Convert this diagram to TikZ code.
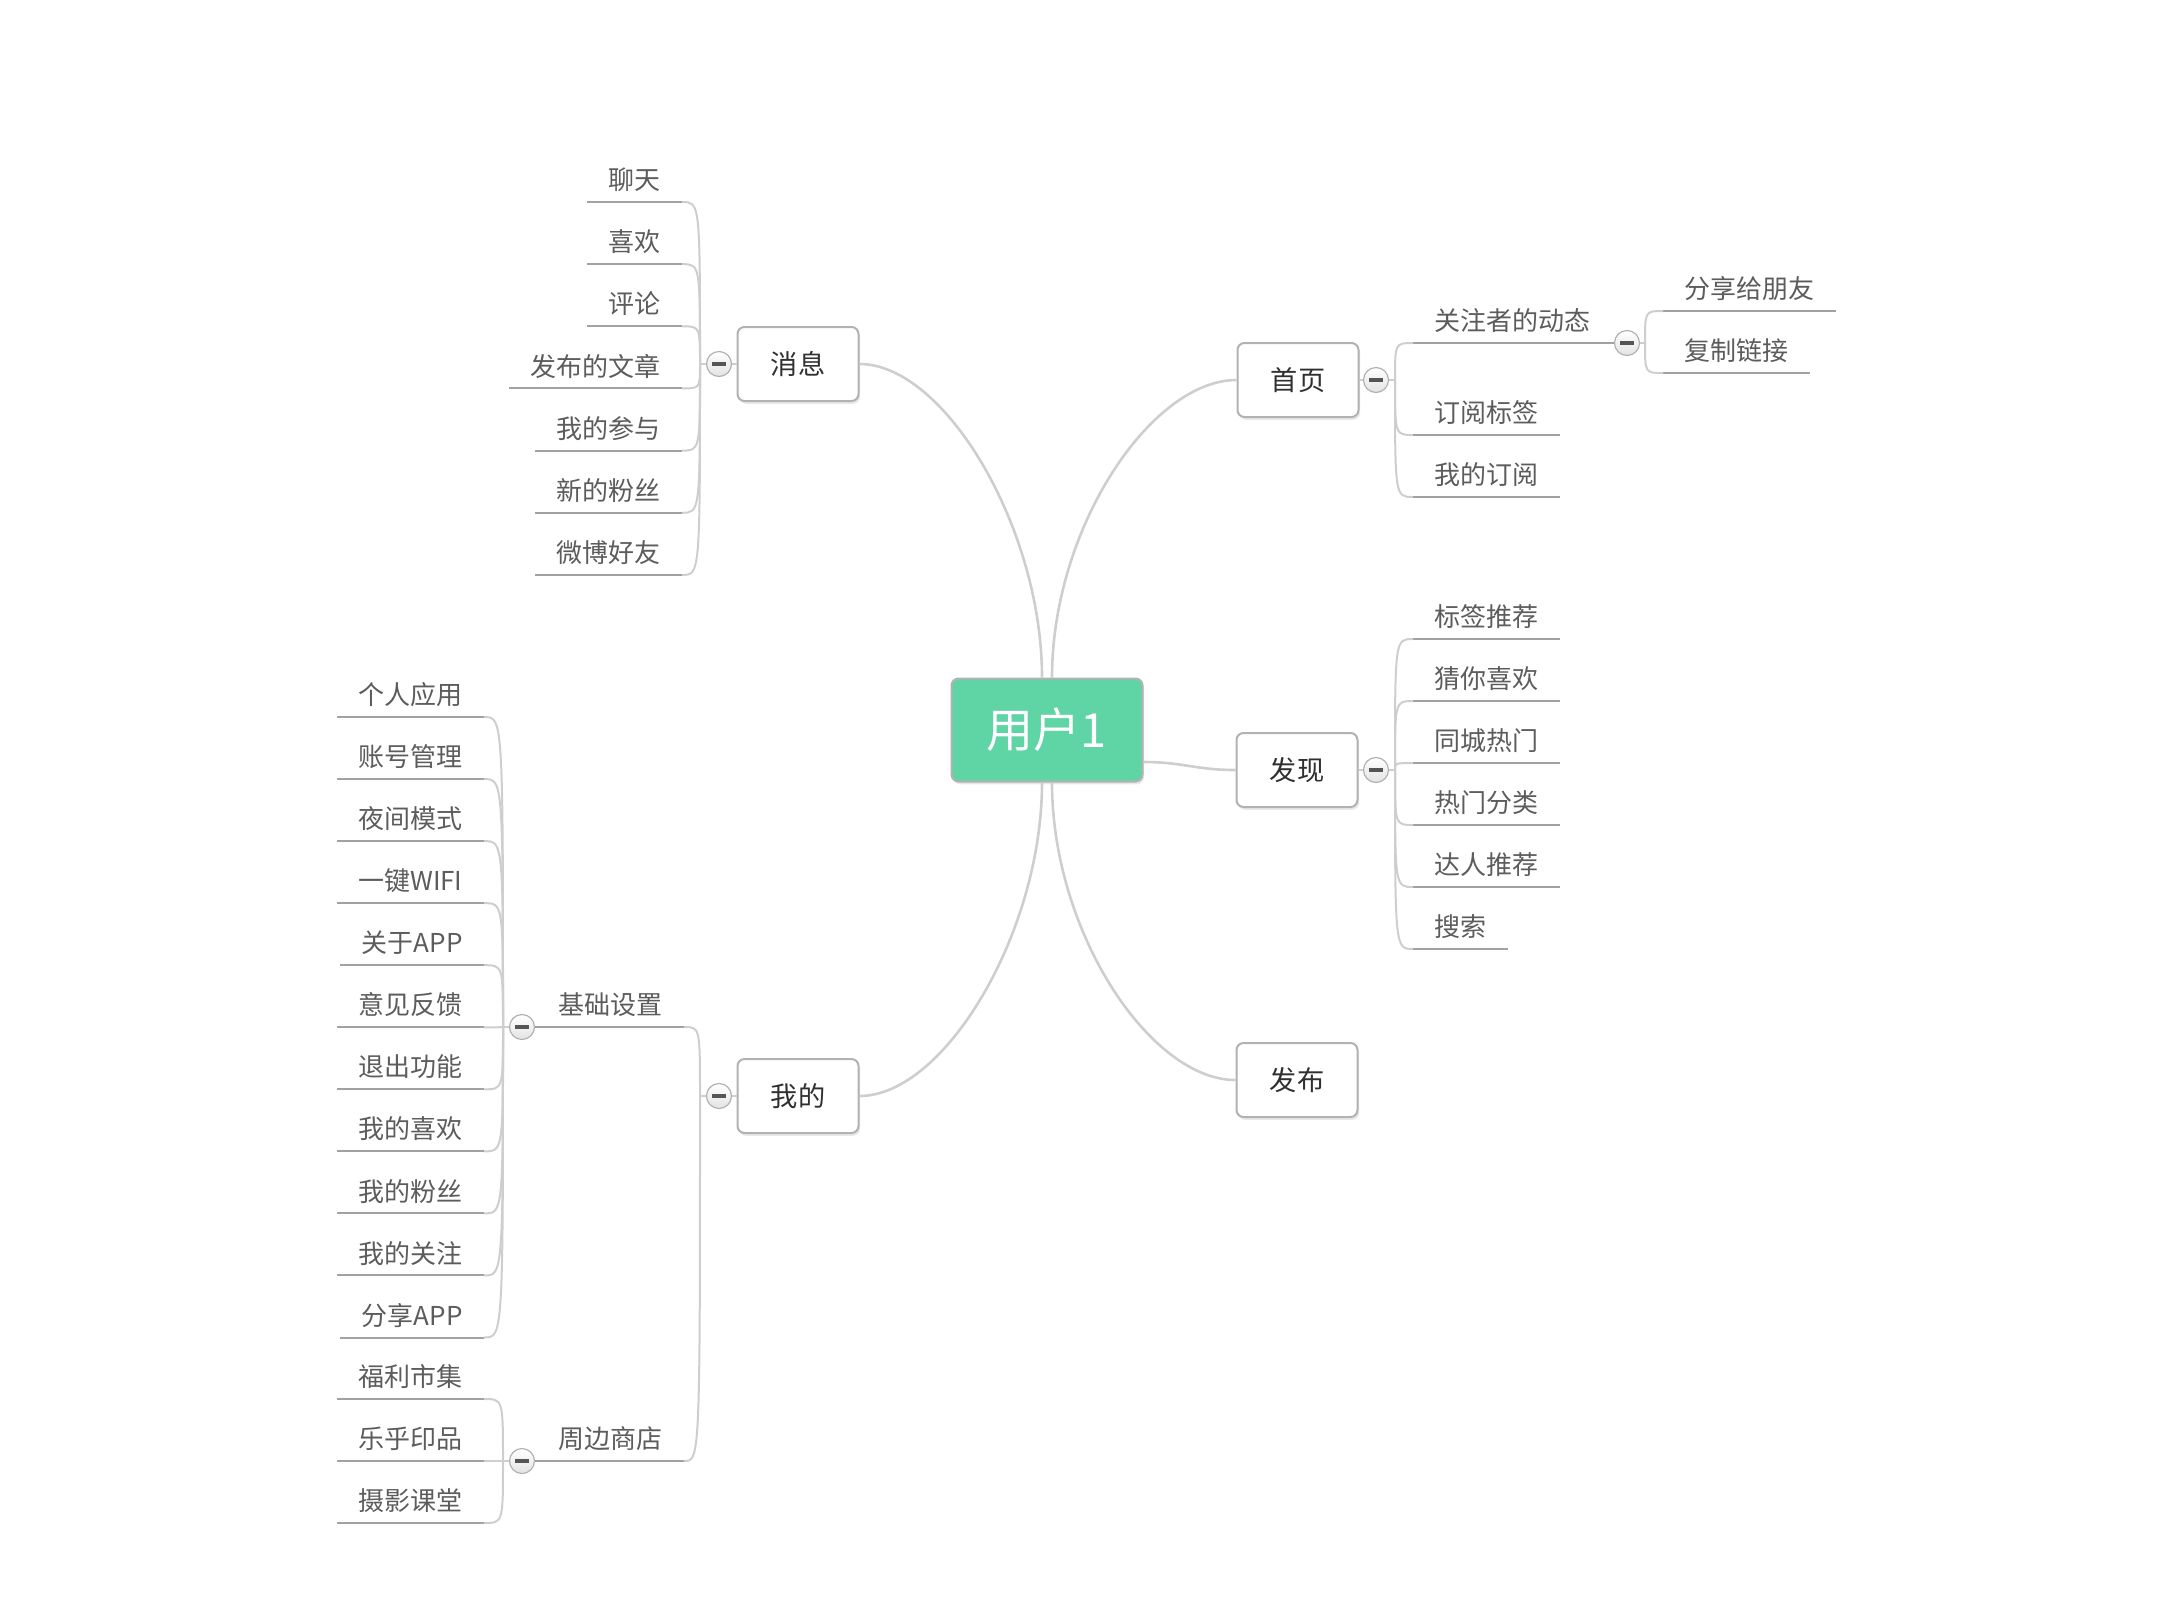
\documentclass[tikz,border=0pt]{standalone}
\usepackage{fontspec}
\setmainfont{Noto Sans CJK SC}
\usepackage{tikz}
\usetikzlibrary{shadows}
\definecolor{mapgreen}{RGB}{95,212,165}
\definecolor{mapedge}{RGB}{178,178,178}
\definecolor{mapbranch}{RGB}{206,206,206}
\definecolor{mapline}{RGB}{162,162,162}
\definecolor{mapleaf}{RGB}{92,92,92}
\definecolor{maptext}{RGB}{48,48,48}
\definecolor{mapminus}{RGB}{85,85,85}

\begin{document}
\begin{tikzpicture}[x=0.5pt,y=-0.5pt,
  topic/.style={draw=mapedge,line width=1pt,rounded corners=3.5pt,fill=white,
    minimum width=60.5pt,minimum height=37pt,text=maptext,
    font=\fontsize{13.6}{15}\selectfont,
    drop shadow={shadow xshift=0.8pt,shadow yshift=-1.4pt,opacity=0.18}},
  roottopic/.style={topic,fill=mapgreen,text=white,minimum width=95.5pt,
    minimum height=51.5pt,font=\fontsize{23.5}{26}\selectfont},
  foldbtn/.style={circle,draw=mapedge,line width=0.6pt,top color=white,bottom color=gray!22,
    minimum size=12.5pt,inner sep=0pt,
    path picture={\draw[line width=1.8pt,mapminus] (-3.3pt,0pt) -- (3.3pt,0pt);}},
  leafr/.style={anchor=south west,inner xsep=10.5pt,inner ysep=5pt,
    text height=10pt,text depth=1pt,text=mapleaf,font=\fontsize{13}{15}\selectfont},
  leafl/.style={leafr,anchor=south east},
  uline/.style={draw=mapline,line width=1pt},
  branch/.style={draw=mapbranch,line width=1.3pt},
  twig/.style={draw=mapbranch,line width=1pt}]
  \useasboundingbox (0,0) rectangle (2164,1602);

  \node[roottopic] (root) at (1047,730) {用户1};
  \node[topic] (msg) at (798,364) {消息};
  \node[topic] (me) at (798,1096) {我的};
  \node[topic] (home) at (1298,380) {首页};
  \node[topic] (fx) at (1297,770) {发现};
  \node[topic] (pub) at (1297,1080) {发布};

  \draw[branch] ([xshift=-2.5pt]root.north) .. controls +(0,-150) and +(85,0) .. (msg.east);
  \draw[branch] ([xshift=2.5pt]root.north) .. controls +(0,-150) and +(-85,0) .. (home.west);
  \draw[branch] ([yshift=-16pt]root.east) .. controls +(40,0) and +(-40,0) .. (fx.west);
  \draw[branch] ([xshift=2.5pt]root.south) .. controls +(0,150) and +(-85,0) .. (pub.west);
  \draw[branch] ([xshift=-2.5pt]root.south) .. controls +(0,150) and +(85,0) .. (me.east);

  % fold buttons and their joints
  \node[foldbtn] (msgbtn) at (719,364) {};
  \node[foldbtn] (mebtn) at (719,1096) {};
  \node[foldbtn] (homebtn) at (1376,380) {};
  \node[foldbtn] (fxbtn) at (1376,770) {};
  \coordinate (jmsg) at (700,364);
  \coordinate (jme) at (700,1096);
  \coordinate (jhome) at (1395,380);
  \coordinate (jfx) at (1395,770);
  \draw[twig] (msg.west) -- (msgbtn.east) (msgbtn.west) -- (jmsg);
  \draw[twig] (me.west) -- (mebtn.east) (mebtn.west) -- (jme);
  \draw[twig] (home.east) -- (homebtn.west) (homebtn.east) -- (jhome);
  \draw[twig] (fx.east) -- (fxbtn.west) (fxbtn.east) -- (jfx);

  % 消息
  \foreach \lab [count=\i] in {聊天,喜欢,评论,发布的文章,我的参与,新的粉丝,微博好友} {
    \node[leafl] (msg\i) at (682,{202+62.15*(\i-1)}) {\lab};
    \draw[uline] (msg\i.south west) -- (msg\i.south east);
    \draw[twig] (jmsg) .. controls (jmsg |- msg\i.south east) .. (msg\i.south east);
  }

  % 首页
  \node[leafr] (follow) at (1413,343) {关注者的动态};
  \node[leafr] (home2) at (1413,435) {订阅标签};
  \node[leafr] (home3) at (1413,497) {我的订阅};
  \node[foldbtn] (followbtn) at (1627,343) {};
  \coordinate (jfollow) at (1645,343);
  \draw[uline] (follow.south west) -- (followbtn.west);
  \draw[twig] (followbtn.east) -- (jfollow);
  \foreach \n in {follow,home2,home3} {
    \draw[twig] (jhome) .. controls (jhome |- \n.south west) .. (\n.south west);
  }
  \foreach \n in {home2,home3} {
    \draw[uline] (\n.south west) -- (\n.south east);
  }
  \foreach \lab/\y [count=\i] in {分享给朋友/311,复制链接/373} {
    \node[leafr] (share\i) at (1663,\y) {\lab};
    \draw[uline] (share\i.south west) -- (share\i.south east);
    \draw[twig] (jfollow) .. controls (jfollow |- share\i.south west) .. (share\i.south west);
  }

  % 发现
  \foreach \lab [count=\i] in {标签推荐,猜你喜欢,同城热门,热门分类,达人推荐,搜索} {
    \node[leafr] (fx\i) at (1413,{639+62*(\i-1)}) {\lab};
    \draw[uline] (fx\i.south west) -- (fx\i.south east);
    \draw[twig] (jfx) .. controls (jfx |- fx\i.south west) .. (fx\i.south west);
  }

  % 我的
  \node[leafl] (basic) at (684,1027) {基础设置};
  \node[leafl] (shop) at (684,1461) {周边商店};
  \node[foldbtn] (basicbtn) at (522,1027) {};
  \node[foldbtn] (shopbtn) at (522,1461) {};
  \coordinate (jbasic) at (503,1027);
  \coordinate (jshop) at (503,1461);
  \draw[uline] (basicbtn.east) -- (basic.south east);
  \draw[uline] (shopbtn.east) -- (shop.south east);
  \draw[twig] (basicbtn.west) -- (jbasic) (shopbtn.west) -- (jshop);
  \foreach \n in {basic,shop} {
    \draw[twig] (jme) .. controls (jme |- \n.south east) .. (\n.south east);
  }
  \foreach \lab [count=\i] in {个人应用,账号管理,夜间模式,一键WIFI,关于APP,意见反馈,
      退出功能,我的喜欢,我的粉丝,我的关注,分享APP} {
    \node[leafl] (basic\i) at (484,{717+62.05*(\i-1)}) {\lab};
    \draw[uline] (basic\i.south west) -- (basic\i.south east);
    \draw[twig] (jbasic) .. controls (jbasic |- basic\i.south east) .. (basic\i.south east);
  }
  \foreach \lab [count=\i] in {福利市集,乐乎印品,摄影课堂} {
    \node[leafl] (shop\i) at (484,{1399+62*(\i-1)}) {\lab};
    \draw[uline] (shop\i.south west) -- (shop\i.south east);
    \draw[twig] (jshop) .. controls (jshop |- shop\i.south east) .. (shop\i.south east);
  }
\end{tikzpicture}
\end{document}
